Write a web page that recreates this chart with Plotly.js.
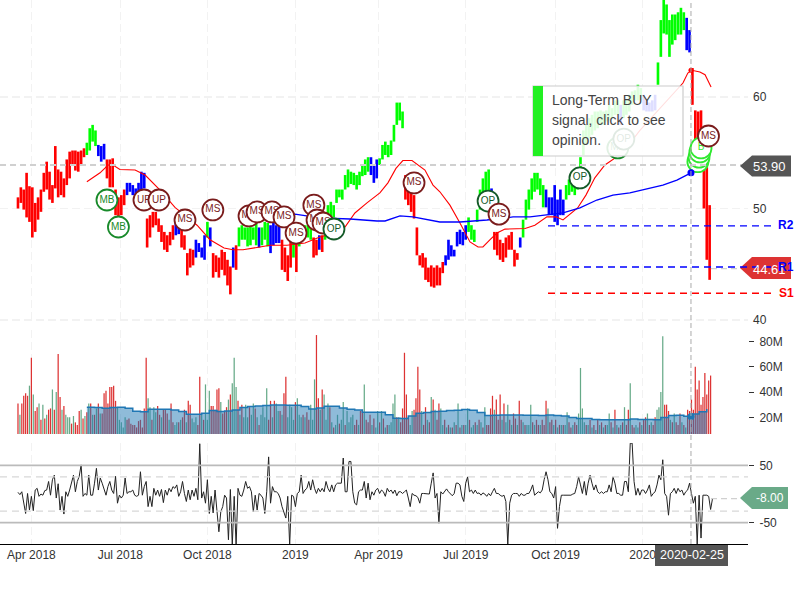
<!DOCTYPE html>
<html><head><meta charset="utf-8">
<script src="https://cdn.plot.ly/plotly-3.0.1.min.js"></script>
<style>html,body{margin:0;padding:0;background:#fff}#c{width:800px;height:600px}</style>
</head><body><div id="c"></div>
<script>
const priceHigh=[51.0,51.9,51.7,53.2,52.0,51.9,50.5,51.0,51.7,53.2,54.2,53.3,52.1,55.6,53.5,53.3,52.7,54.4,55.1,55.2,55.2,55.1,55.2,55.4,
55.9,57.2,57.5,57.0,55.7,55.6,55.8,54.4,54.4,54.5,51.7,51.0,51.2,51.7,52.3,52.3,52.1,51.8,52.3,53.3,53.2,
49.1,49.4,49.7,49.7,49.1,48.5,47.9,47.6,47.9,48.5,48.7,48.3,48.1,47.6,46.0,46.4,46.3,47.2,46.9,46.5,47.6,48.8,48.3,
46.0,45.8,45.6,46.3,46.1,45.4,44.8,46.5,46.7,48.3,48.5,48.3,48.3,48.5,48.3,48.7,48.3,48.3,48.8,48.7,48.5,48.7,48.5,48.5,
47.2,46.5,45.8,47.2,46.9,46.9,48.1,48.3,48.5,48.5,48.3,47.4,47.2,47.6,47.6,48.5,50.3,50.6,50.3,51.7,51.7,51.7,53.0,53.5,53.3,53.2,53.0,53.3,
53.9,54.4,54.6,54.6,53.9,54.4,54.5,55.7,56.0,55.7,56.1,57.5,59.5,59.5,58.7,
53.0,52.3,51.7,51.2,48.3,45.8,46.0,45.6,44.7,44.9,44.7,44.9,44.7,45.2,45.8,47.2,46.7,46.3,47.9,48.1,47.9,48.5,
49.2,48.5,48.1,49.9,51.7,52.7,53.3,53.5,51.8,47.9,47.9,47.2,46.9,47.4,47.6,47.9,46.3,46.0,47.4,
49.0,50.8,51.7,52.7,53.2,53.2,52.7,52.1,51.7,51.0,51.0,52.1,50.8,51.7,50.8,52.1,52.6,53.0,52.6,52.7,54.6,57.0,57.5,58.1,58.4,58.7,58.7,58.8,58.7,58.8,59.3,59.0,59.7,59.7,
59.3,59.7,59.7,60.2,60.5,60.6,61.1,60.8,60.2,59.7,59.5,59.7,60.2,63.1,66.9,68.7,68.3,66.9,67.4,67.4,67.6,68.0,67.6,67.1,66.0,
62.6,58.8,58.7,58.8,54.8,53.7,50.3];
const priceLow=[50.0,50.5,49.9,49.2,48.8,47.4,47.9,49.0,49.7,51.5,51.7,50.8,50.5,51.8,51.0,51.2,51.0,52.1,52.7,53.9,53.4,53.3,53.9,54.6,
54.8,55.2,56.0,55.6,54.7,54.2,54.4,52.7,51.9,51.9,49.4,49.2,49.4,50.3,51.2,51.5,51.2,50.9,50.9,51.2,51.8,
46.5,47.4,48.3,48.5,47.9,47.0,46.3,46.1,46.7,47.2,47.6,47.7,46.5,46.3,44.0,44.7,44.9,45.6,46.1,45.6,45.4,47.4,46.6,
43.8,44.3,43.8,44.5,44.0,43.1,42.3,44.7,44.5,46.6,47.2,47.2,46.6,46.7,47.2,46.7,46.5,46.7,47.2,46.6,46.0,46.7,46.9,46.9,
44.5,44.3,43.5,44.7,45.6,44.3,46.6,47.4,47.6,47.4,47.2,45.6,45.8,46.3,46.1,47.2,48.5,48.8,49.2,50.5,51.0,50.8,51.7,51.9,52.2,52.1,51.7,52.1,
52.9,53.0,53.3,53.0,52.3,52.7,53.9,54.4,54.8,54.6,54.8,56.0,57.5,57.9,57.2,
50.8,50.3,49.7,49.1,45.8,44.9,44.7,43.6,43.4,43.0,42.9,43.1,43.1,44.2,44.9,45.4,45.7,45.7,46.6,46.8,46.7,47.2,
47.9,47.2,47.0,48.8,49.9,50.3,50.8,51.2,50.8,46.3,45.8,45.4,45.2,45.6,46.3,46.3,44.8,45.4,46.5,
47.4,49.0,49.9,50.8,51.5,51.7,51.2,50.1,50.1,49.4,49.4,48.8,48.5,49.4,49.4,50.8,51.2,51.5,51.2,51.7,53.5,54.8,55.7,56.3,56.6,57.0,57.2,57.5,57.5,57.8,57.9,58.1,58.4,58.4,
57.5,58.1,58.4,58.7,59.3,59.7,59.7,59.7,58.8,58.7,58.7,58.7,58.8,61.1,63.6,65.7,65.6,63.6,64.7,65.1,65.6,65.6,66.0,64.2,64.0,
59.3,53.9,55.2,55.4,50.0,45.4,43.6];
// Trend colour of the price bars: [number of bars, colour key]
const trendRuns=[[24,'r'],[4,'g'],[3,'b'],[7,'r'],[7,'b'],[10,'r'],[2,'b'],[5,'r'],[4,'b'],[1,'g'],[1,'b'],[7,'r'],[1,'b'],[1,'r'],[7,'g'],[1,'b'],[3,'g'],[4,'b'],[4,'r'],[1,'g'],[1,'r'],[5,'g'],[2,'r'],[1,'b'],[1,'r'],[16,'g'],[3,'b'],[9,'g'],[14,'r'],[8,'b'],[8,'g'],[1,'b'],[9,'r'],[1,'b'],[8,'g'],[7,'b'],[19,'g'],[1,'b'],[7,'g'],[5,'b'],[10,'g'],[2,'b'],[7,'r']];
// Moving averages: position in price-bar units, price
const fastMaBar=[24,28.6,31.4,33.1,35.5,40.8,44.3,49.5,54.7,57.5,62.4,66.9,71.8,74.9,78.4,84.3,87.8,93.7,100,105.2,110.5,114,117.4,121.6,126.1,128.9,131.7,134.1,137.3,141.8,144.6,147,150.5,154,157.5,160.3,162,164.5,166.9,169.7,176.7,180.1,184.3,187.5,189.9,195,197.9,201,204.5,209,212.5,216.7,223.7,228.9,231.7,233.4,234.8,237.6,239.4,241.5];
const fastMa=[52.4,53.2,53.9,53.9,53.5,53.45,53,51.65,50.1,49.5,48.5,47.2,46.45,46.3,46.3,46.55,46.7,46.7,46.9,47.45,47.8,48.35,49.6,50.5,51.4,52.3,53.6,54.3,54.3,53.45,52.1,51.5,50.3,48.7,47,46.55,46.55,47.2,47.8,48.15,48.2,48.5,49.25,49.25,48.97,50.05,51.2,52.75,53.9,54.7,55.6,57,59,60.45,61.25,62.15,62.4,62.25,62,60.9];
const slowMaBar=[87.1,96.5,105.2,115.7,125.1,127.9,133.1,137.6,147,154,163.4,172.5,178.4,184.3,189.9,195.8,201.7,207.3,213.2,224.7,229.6,234.5];
const slowMa=[49.4,49.5,49.15,49.06,48.88,48.88,49.33,49.24,48.79,48.79,48.97,49.24,49.24,49.42,49.6,50.05,50.76,51.2,51.4,52.1,52.55,53.2];
// Volume in millions, every 2 days; negative = down day (red), positive = up day (green)
const signedVolume=[-31,22,-31,-37,-39,-37,45,-67,38,-25,-28,31,-18,30,-19,22,-26,-27,42,-26,40,-70,-36,26,-29,22,20,20,-15,21,-16,-14,-25,26,-19,21,-24,31,-31,22,-22,27,-31,23,-23,-39,-41,-31,-44,-44,-45,-33,28,18,16,12,20,-18,-19,-15,-14,-14,-12,-17,-18,-12,-27,-67,35,28,-18,28,24,-29,-22,20,-26,-26,-23,18,-31,-16,14,16,-16,18,-20,-26,16,-33,-30,19,16,20,-14,-52,22,-18,46,18,41,-29,-29,-26,-42,-43,32,-23,-25,-28,34,-38,47,67,44,-33,22,-30,20,30,20,-28,22,31,-27,20,-14,22,28,20,43,-18,-33,20,-33,31,25,-25,22,-39,-52,20,30,28,18,-32,35,22,20,-22,20,-24,-18,30,18,50,-85,-35,26,-42,38,18,31,-28,16,-12,14,22,-15,18,32,-14,25,16,20,22,-14,-18,14,-25,-26,46,-18,-16,-22,14,-19,12,25,-16,25,-19,12,-14,14,16,31,38,-20,20,
-16,-27,-71,-38,-20,14,25,-26,-35,-60,-42,25,-14,-28,18,-16,36,-34,26,-18,-31,27,14,-18,12,-14,12,-12,16,-14,31,-12,14,-14,14,27,-18,12,14,-16,14,-18,16,-12,28,-14,-14,-27,-37,26,-34,-18,-38,18,-31,16,30,-18,14,-23,-19,14,-33,-18,16,-14,14,14,30,-16,14,-18,-14,14,-18,-14,-33,27,-16,-18,14,-18,12,-14,14,-14,14,24,-16,-12,14,-16,-14,23,59,27,16,-14,14,-18,12,-14,10,-18,14,-16,12,-14,14,23,-16,12,-26,14,-12,14,-16,28,-14,-26,47,-14,-12,14,12,-16,14,-18,-20,23,-14,16,-14,-20,26,28,40,84,-30,-30,-25,18,-16,23,-16,-14,-23,16,-14,12,-26,-25,-34,-26,-60,-42,-49,-30,-36,-55,-38,-49,-53];
// Average volume (millions), one value every 8 days from day 72
const volumeAverage=[28,27.7,27.2,27.7,28,27.2,24.8,24.3,26.4,26.4,26.4,25.8,24.5,22.4,22.4,23.2,25.3,24.5,25,25.8,27.7,28.5,29,29.3,29.8,29.8,29.5,29.5,28.5,26.6,27.4,28.7,28.7,27.4,26.4,25.8,24,24,24,22,19.3,19,21.1,23.2,23.7,24.5,24.8,25.3,25.6,26.1,25.6,23.7,21.4,21.6,21.9,21.9,21.9,21.6,21.6,21.4,21.9,21.4,21.1,19.8,19,19,18.2,18,18,18,18,18.7,18.2,18.2,18,19.8,21.4,21.6,20.8,22.7,24.3,26.6];
// Oscillator, every 2 days
const oscillator=[3,-1,4,-19,-34,1,-28,-4,-29,7,10,-4,0,-2,6,7,22,-2,25,33,-7,18,-28,-4,-35,4,-4,7,22,33,4,22,31,51,-4,1,-2,33,-2,-2,19,45,7,28,19,7,-2,13,22,7,1,31,-16,-2,-7,-2,28,1,4,4,7,-2,-4,-2,39,-2,13,22,-22,-4,-22,10,-2,7,-4,8,-15,7,-2,10,4,13,10,16,-4,4,22,1,-13,7,-10,7,-4,10,-10,88,-7,4,-16,25,-34,-4,-33,7,-25,-66,-31,-22,-2,-7,-80,8,-90,-4,-90,10,-2,-4,7,22,10,13,4,-31,-2,-28,1,-2,-7,-34,4,65,-16,13,4,4,1,-7,-22,-31,-42,-4,-90,-2,-4,-22,1,4,33,1,7,10,22,7,25,10,1,10,4,10,4,22,10,4,16,4,16,19,19,19,63,4,4,57,57,4,-16,-19,4,7,7,22,-7,19,-10,4,-2,7,10,1,7,4,-4,10,4,7,1,7,-3,
4,4,1,4,7,-7,-22,1,-2,-3,-6,-16,1,1,1,1,0,19,37,-7,1,-51,4,0,4,9,4,1,-3,1,19,19,16,-4,-13,19,30,4,7,1,7,1,2,-2,2,0,-4,1,-3,4,10,1,1,-2,-4,-2,-13,-88,-16,-2,1,1,1,-4,1,-2,-2,1,1,7,16,-2,1,4,2,7,25,39,25,4,1,-7,13,-60,-22,-2,-2,-2,-2,-2,-2,0,1,13,30,16,1,22,-2,19,33,19,7,16,4,1,4,1,4,4,16,4,30,19,1,1,-2,-2,22,22,4,89,89,22,-2,10,-2,7,7,1,7,16,-4,1,4,16,33,25,60,1,-4,-37,1,4,10,1,10,4,7,-2,4,7,19,1,-16,-4,-88,-2,-77,-2,-2,-2,-4,-27,-8];
// Signals: label, position in price-bar units, price
const signalLabel=['MB','MB','UP','UP','MS','MS','MS','MS','MS','MS','MS','MS','MS','MS','OP','MS','OP','MS','OP','MB','OP','B','B','B','B','MS'];
const signalBar=[31,35,43.9,49.1,58.2,67.9,80.5,83.3,88.5,92.7,96.9,103.1,104.2,106.3,110.1,138,163.8,167.6,195.8,209,211.1,236.9,237.3,237.6,238,240.6];
const signalPrice=[50.76,48.34,50.76,50.76,48.97,49.87,49.33,49.69,49.69,49.24,47.8,50.3,48.97,48.7,48.16,52.3,50.67,49.5,52.74,55.43,56.23,54.2,54.6,55.07,55.43,56.5];
const signalColours={MB:'#188a2a',UP:'#7a1c1c',MS:'#7a1c1c',OP:'#145a28',B:'#2fe82f'};
// Axis
const tickDates=['2018-04-01','2018-07-03','2018-10-02','2019-01-02','2019-03-30','2019-06-29','2019-10-01','2019-12-31'];
const tickNames=['Apr 2018','Jul 2018','Oct 2018','2019','Apr 2019','Jul 2019','Oct 2019','2020'];
// Levels
const lastPrice=53.9, closePrice=44.61, r2=48.44, r1=44.75, s1=42.4, lastOsc=-8, cursorBar=234.5;
const cursorFast=62.4, cursorSlow=53.2, cursorVolume=20.6;

// ---- build ----
const W=748,H=544;
const X=p=>p/W, Y=p=>1-p/H;
const day0=Date.UTC(2018,2,18), DAY=864e5;
const dateAt=d=>new Date(day0+d*DAY).toISOString().slice(0,19).replace('T',' ');
const barDate=i=>dateAt(i*3);
const volDate=j=>dateAt(j*2);
const keyCol={r:'#ff0000',g:'#00ff00',b:'#0000ff'};
const barCols=[];trendRuns.forEach(([n,c])=>{for(let k=0;k<n;k++)barCols.push(keyCol[c]);});

const traces=[];
traces.push({type:'bar',xaxis:'x',yaxis:'y',x:priceHigh.map((_,i)=>barDate(i)),base:priceLow,y:priceHigh.map((h,i)=>h-priceLow[i]),width:2.75*DAY,marker:{color:barCols,line:{width:0}},hoverinfo:'skip'});
traces.push({type:'scatter',mode:'lines',x:fastMaBar.map(barDate),y:fastMa,line:{color:'#ff0000',width:1.1},hoverinfo:'skip'});
traces.push({type:'scatter',mode:'lines',x:slowMaBar.map(barDate),y:slowMa,line:{color:'#0000ff',width:1.3},hoverinfo:'skip'});
signalLabel.forEach((l,i)=>{const c=signalColours[l];traces.push({type:'scatter',mode:'markers+text',x:[barDate(signalBar[i])],y:[signalPrice[i]],text:[l],textposition:'middle center',textfont:{size:10,color:c},marker:{size:21,color:'#fff',line:{color:c,width:1.8}},hoverinfo:'skip'});});
traces.push({type:'scatter',mode:'markers',x:[barDate(cursorBar)],y:[cursorSlow],marker:{size:7,color:'#0000ff'},hoverinfo:'skip'});
traces.push({type:'scatter',mode:'markers',x:[barDate(cursorBar)],y:[cursorFast],marker:{size:5,color:'#ff0000'},hoverinfo:'skip'});
// volume
traces.push({type:'bar',xaxis:'x',yaxis:'y2',x:signedVolume.map((_,j)=>volDate(j)),y:signedVolume.map(Math.abs),width:1.3*DAY,marker:{color:signedVolume.map(v=>v<0?'#dd3333':'#66aa88'),line:{width:0}},hoverinfo:'skip'});
traces.push({type:'scatter',mode:'lines',xaxis:'x',yaxis:'y2',x:volumeAverage.map((_,k)=>volDate(36+4*k)),y:volumeAverage,line:{color:'#1f77b4',width:1.5,shape:'hv'},fill:'tozeroy',fillcolor:'rgba(31,119,180,0.5)',hoverinfo:'skip'});
traces.push({type:'scatter',mode:'markers',xaxis:'x',yaxis:'y2',x:[barDate(cursorBar)],y:[cursorVolume],marker:{size:7,color:'#1f77b4'},hoverinfo:'skip'});
// oscillator
traces.push({type:'scatter',mode:'lines',xaxis:'x',yaxis:'y3',x:oscillator.map((_,j)=>volDate(j)),y:oscillator,line:{color:'#222',width:1},hoverinfo:'skip'});

const hline=(yref,v,color,width,dash,x0=0,x1=1)=>({type:'line',layer:'above',xref:'paper',yref,x0,x1,y0:v,y1:v,line:{color,width,dash}});
const tag=(x1,yc,h,col)=>{const t=Y(yc-h/2),b=Y(yc+h/2);return {type:'path',layer:'above',xref:'paper',yref:'paper',path:`M ${X(740)} ${Y(yc)} L ${X(752)} ${t} L ${X(x1)} ${t} L ${X(x1)} ${b} L ${X(752)} ${b} Z`,fillcolor:col,line:{width:0}};};
const shapes=[
 hline('y',lastPrice,'#d0d0d0',2,'6px,4px'),
 hline('y3',50,'#bbbbbb',1.7,'solid'),hline('y3',-50,'#bbbbbb',1.7,'solid'),
 hline('y3',30,'#d8d8d8',1.3,'7px,5px'),hline('y3',-30,'#d8d8d8',1.3,'7px,5px'),
 hline('y',closePrice,'#d0d0d0',1.3,'6px,4px',X(711),X(740)),
 hline('y3',lastOsc,'#d0d0d0',1.3,'6px,4px',X(711),X(740)),
 {type:'line',layer:'above',xref:'x',yref:'paper',x0:barDate(cursorBar),x1:barDate(cursorBar),y0:0,y1:1,line:{color:'#aaa',width:1,dash:'5px,3px'}},
 // tooltip
 {type:'rect',layer:'above',xref:'paper',yref:'paper',x0:X(533),x1:X(683),y0:Y(156),y1:Y(86),fillcolor:'rgba(255,255,255,0.87)',line:{color:'#cccccc',width:1.2}},
 {type:'rect',layer:'above',xref:'paper',yref:'paper',x0:X(533),x1:X(543),y0:Y(156),y1:Y(86),fillcolor:'#22f022',line:{width:0}},
 // price tags
 tag(791,166,21,'#555555'),tag(791,268,22,'#dd3333'),tag(788,498,22,'#6aaa88'),
 {type:'rect',layer:'above',xref:'paper',yref:'paper',x0:X(655),x1:X(728),y0:Y(566),y1:Y(545),fillcolor:'#555555',line:{width:0}},
 // resistance / support
 hline('y',r2,'#0000ff',1.4,'7px,5px',X(548),X(771)),
 hline('y',r1,'#0000ff',1.4,'7px,5px',X(548),X(771)),
 hline('y',s1,'#ff0000',1.4,'7px,5px',X(548),X(771)),
];
const note=(px,py,text,size,color,anchor='center')=>({xref:'paper',yref:'paper',x:X(px),y:Y(py),text,showarrow:false,xanchor:anchor,yanchor:'middle',align:anchor,font:{size,color},borderpad:0});
const annotations=[
 note(551,100,'Long-Term BUY',14,'#444','left'),
 note(551,120,'signal, click to see',14,'#444','left'),
 note(551,140,'opinion.',14,'#444','left'),
 note(769,166,'53.90',13,'#fff'),
 note(769,269,'44.61',13,'#fff'),
 note(770,498,'-8.00',12,'#fff'),
 note(691.5,555,'2020-02-25',12.5,'#fff'),
 note(786,225,'<b>R2</b>',12,'#0000ff'),
 note(786,267,'<b>R1</b>',12,'#0000ff'),
 note(786,293,'<b>S1</b>',12,'#ff0000'),
];
const layout={
 width:800,height:600,showlegend:false,barmode:'overlay',
 margin:{l:0,r:52,t:0,b:56,pad:0},
 paper_bgcolor:'#fff',plot_bgcolor:'#fff',
 font:{family:'"Liberation Sans",Arial,sans-serif',size:12,color:'#333'},
 xaxis:{type:'date',anchor:'y3',range:[dateAt(-18.8),dateAt(763.1)],tickmode:'array',tickvals:tickDates,ticktext:tickNames,ticks:'',showline:true,linecolor:'#000',linewidth:1,showgrid:true,gridcolor:'#f2f2f2',gridwidth:1.5,griddash:'8px,4px',zeroline:false,tickangle:0,tickfont:{size:12,color:'#333'}},
 yaxis:{domain:[Y(322),1],anchor:'x',side:'right',range:[39.82,68.7],tickmode:'array',tickvals:[40,50,60],ticktext:['40','50','60'],ticks:'',ticklabelstandoff:4,showgrid:true,gridcolor:'#f2f2f2',gridwidth:1.5,griddash:'8px,4px',zeroline:false,showline:false},
 yaxis2:{domain:[Y(434),Y(330)],anchor:'x',side:'right',range:[6.8,89],tickmode:'array',tickvals:[20,40,60,80],ticktext:['20M','40M','60M','80M'],ticks:'outside',ticklen:5,tickcolor:'#333',ticklabelstandoff:3,showgrid:false,zeroline:false,showline:false},
 yaxis3:{domain:[0,Y(443)],anchor:'x',side:'right',range:[-87.4,89.3],tickmode:'array',tickvals:[50,-50],ticktext:['50','-50'],ticks:'outside',ticklen:5,tickcolor:'#333',ticklabelstandoff:3,showgrid:false,zeroline:false,showline:false},
 shapes,annotations
};
Plotly.newPlot('c',traces,layout,{displayModeBar:false,staticPlot:true});
</script></body></html>
